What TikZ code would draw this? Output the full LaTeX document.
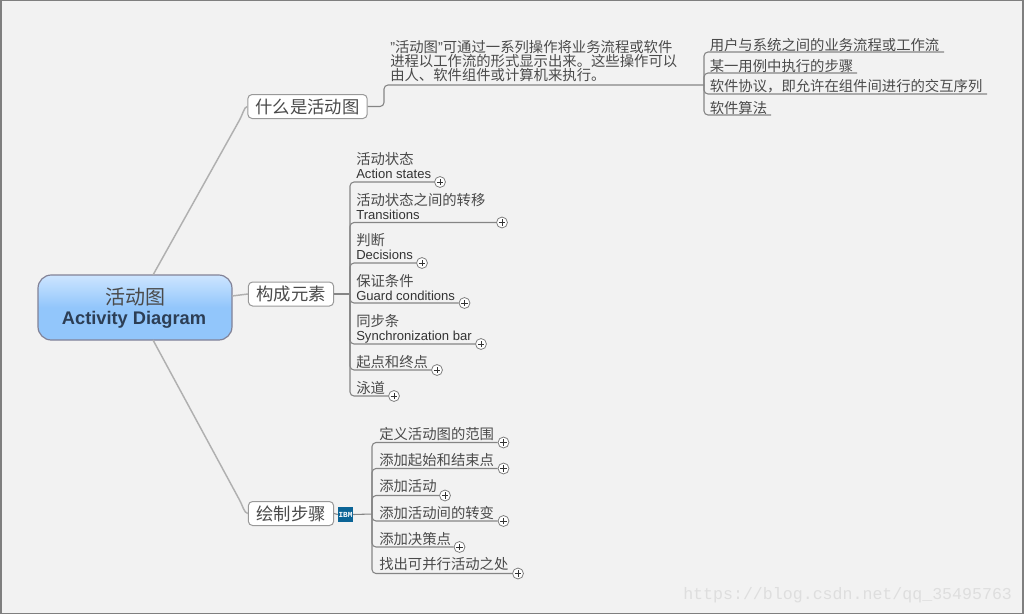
\documentclass[tikz,border=0pt]{standalone}
\usepackage{fontspec}
\setmainfont{Liberation Sans}
\newfontfamily\cjk{Noto Sans CJK SC}
\newfontfamily\wmfont{Liberation Mono}
\usetikzlibrary{calc}
\definecolor{bgc}{HTML}{F2F2F2}
\definecolor{framec}{HTML}{7F7F7F}
\definecolor{linec}{HTML}{B0B0B0}
\definecolor{ulc}{HTML}{858585}
\definecolor{txtc}{HTML}{4A4A4A}
\definecolor{entxt}{HTML}{333333}
\definecolor{rootc}{HTML}{2C3E55}
\definecolor{ibmc}{HTML}{0B6496}
\newcommand{\zh}{\fontsize{10.76pt}{10.5pt}\selectfont\cjk}
\newcommand{\en}{\fontsize{9.8pt}{10.5pt}\selectfont\normalfont\color{entxt}}
\tikzset{
  x=.75pt,y=-.75pt,
  rootbox/.style={draw=black!35!blue!15!gray!85,line width=.9pt,rounded corners=10pt,minimum width=145.5pt,minimum height=48.75pt,inner sep=0pt,align=center,
    path picture={\shade[top color=rootA,bottom color=rootB,middle color=rootB,shading angle=0]
      (path picture bounding box.south west) rectangle (path picture bounding box.north east);}},
  topicbox/.style={draw=black!40,fill=white,line width=.75pt,rounded corners=3.2pt,minimum height=18pt,inner sep=0pt,font=\fontsize{13pt}{14pt}\selectfont\cjk,text=txtc},
  mainline/.style={draw=linec,line width=1.1pt},
  trunk/.style={draw=ulc,line width=.8pt,rounded corners=3pt},
  itemtxt/.style={inner sep=0pt,anchor=south west,align=left,text=txtc,font=\zh},
  desctxt/.style={inner sep=0pt,anchor=north west,align=left,text=txtc,font=\fontsize{10.76pt}{10.5pt}\selectfont\cjk},
  plusbtn/.style={circle,draw=black!50,fill=white,line width=.6pt,minimum size=8.2pt,inner sep=0pt,
    path picture={\draw[black!80,line width=.6pt]
      ([xshift=-2.4pt]path picture bounding box.center)--([xshift=2.4pt]path picture bounding box.center)
      ([yshift=-2.4pt]path picture bounding box.center)--([yshift=2.4pt]path picture bounding box.center);}},
  watermark/.style={inner sep=0pt,text=black!13,font=\fontsize{12.45pt}{14pt}\selectfont\wmfont}
}
\definecolor{rootA}{HTML}{CDE5FF}
\definecolor{rootB}{HTML}{92C6FB}
\begin{document}
\begin{tikzpicture}
\useasboundingbox (0,0) rectangle (1024,615);
\fill[white] (0,0) rectangle (1024,615);
\draw[framec,line width=1.1pt,fill=bgc] (1,.5) rectangle (1023,613.5);

% root
\node[rootbox] (root) at (135,307.5) {};
\node[inner sep=0pt,text=txtc,font=\fontsize{15pt}{16pt}\selectfont\cjk] (rootzh) at (135,296.5) {活动图};
\node[inner sep=0pt,text=rootc,font=\fontsize{13.7pt}{14pt}\selectfont\bfseries] (rooten) at (134,319.5) {Activity Diagram};

% topics
\node[topicbox,minimum width=89.5pt] (t1) at (307.5,106.5) {什么是活动图};
\node[topicbox,minimum width=64pt] (t2) at (291,294) {构成元素};
\node[topicbox,minimum width=64pt] (t3) at (291,513.5) {绘制步骤};
\node[fill=ibmc,minimum width=11.2pt,minimum height=11.2pt,inner sep=0pt,text=white,font=\fontsize{5.8pt}{6pt}\selectfont\bfseries\wmfont] (ibm) at (345.5,514.5) {IBM};

\coordinate (r1) at (153,275);
\coordinate (r2) at (232,296);
\coordinate (r3) at (153,340);
\draw[mainline] (r1) -- (239,121) .. controls (243,114) and (244,107) .. (t1.west);
\draw[mainline] (r3) -- (239,499) .. controls (243,506) and (244,513) .. (t3.west);
\draw[mainline] (r2) -- (t2.west);

% first branch
\coordinate (bend) at (384,85);
\coordinate (hubR) at (704,85);
\draw[trunk] (t1.east) -| (bend) -- (hubR);
\node[desctxt] (desc) at (390,40.5) {{\normalfont"}活动图{\normalfont"}可通过一系列操作将业务流程或软件\\进程以工作流的形式显示出来。这些操作可以\\由人、软件组件或计算机来执行。};

\node[itemtxt] (a1) at (709.5,51.5) {用户与系统之间的业务流程或工作流};
\node[itemtxt] (a2) at (709.5,72.5) {某一用例中执行的步骤};
\node[itemtxt] (a3) at (709.5,93.5) {软件协议，即允许在组件间进行的交互序列};
\node[itemtxt] (a4) at (709.5,114.5) {软件算法};
\coordinate (e1) at (944,52);
\coordinate (e2) at (857,73);
\coordinate (e3) at (987,94);
\coordinate (e4) at (771,115);
\foreach \e in {e1,e2,e3,e4} \draw[trunk] (hubR) |- (\e);

% second branch
\coordinate (hubM) at (350,294);
\draw[trunk] (t2.east) -- (hubM);
\node[itemtxt] (b1) at (356,179) {活动状态\\{\en Action states}};
\node[itemtxt] (b2) at (356,220) {活动状态之间的转移\\{\en Transitions}};
\node[itemtxt] (b3) at (356,260) {判断\\{\en Decisions}};
\node[itemtxt] (b4) at (356,300.5) {保证条件\\{\en Guard conditions}};
\node[itemtxt] (b5) at (356,343) {同步条\\{\en Synchronization bar}};
\node[itemtxt] (b6) at (356,369) {起点和终点};
\node[itemtxt] (b7) at (356,395) {泳道};
\node[plusbtn] (pb1) at (440,182) {};
\node[plusbtn] (pb2) at (502,222.5) {};
\node[plusbtn] (pb3) at (422,263) {};
\node[plusbtn] (pb4) at (464.5,303) {};
\node[plusbtn] (pb5) at (481,344) {};
\node[plusbtn] (pb6) at (437,370) {};
\node[plusbtn] (pb7) at (394,396) {};
\foreach \p in {pb1,pb2,pb3,pb4,pb5,pb6,pb7} \draw[trunk] (hubM) |- (\p.west);

% third branch
\coordinate (hubB) at (372,514);
\draw[trunk] (t3.east) -- (ibm.west);
\draw[trunk] (ibm.east) -- (hubB);
\node[itemtxt] (c1) at (379,441) {定义活动图的范围};
\node[itemtxt] (c2) at (379,467.5) {添加起始和结束点};
\node[itemtxt] (c3) at (379,493) {添加活动};
\node[itemtxt] (c4) at (379,519.5) {添加活动间的转变};
\node[itemtxt] (c5) at (379,545.5) {添加决策点};
\node[itemtxt] (c6) at (379,571.5) {找出可并行活动之处};
\node[plusbtn] (pc1) at (503.5,442.5) {};
\node[plusbtn] (pc2) at (503.5,468.5) {};
\node[plusbtn] (pc3) at (445,495.5) {};
\node[plusbtn] (pc4) at (503.5,521) {};
\node[plusbtn] (pc5) at (459.5,547) {};
\node[plusbtn] (pc6) at (518,573.5) {};
\foreach \p in {pc1,pc2,pc3,pc4,pc5,pc6} \draw[trunk] (hubB) |- (\p.west);

% watermark
\node[watermark,anchor=west] (wm) at (683,595) {https://blog.csdn.net/qq\_35495763};
\end{tikzpicture}
\end{document}
